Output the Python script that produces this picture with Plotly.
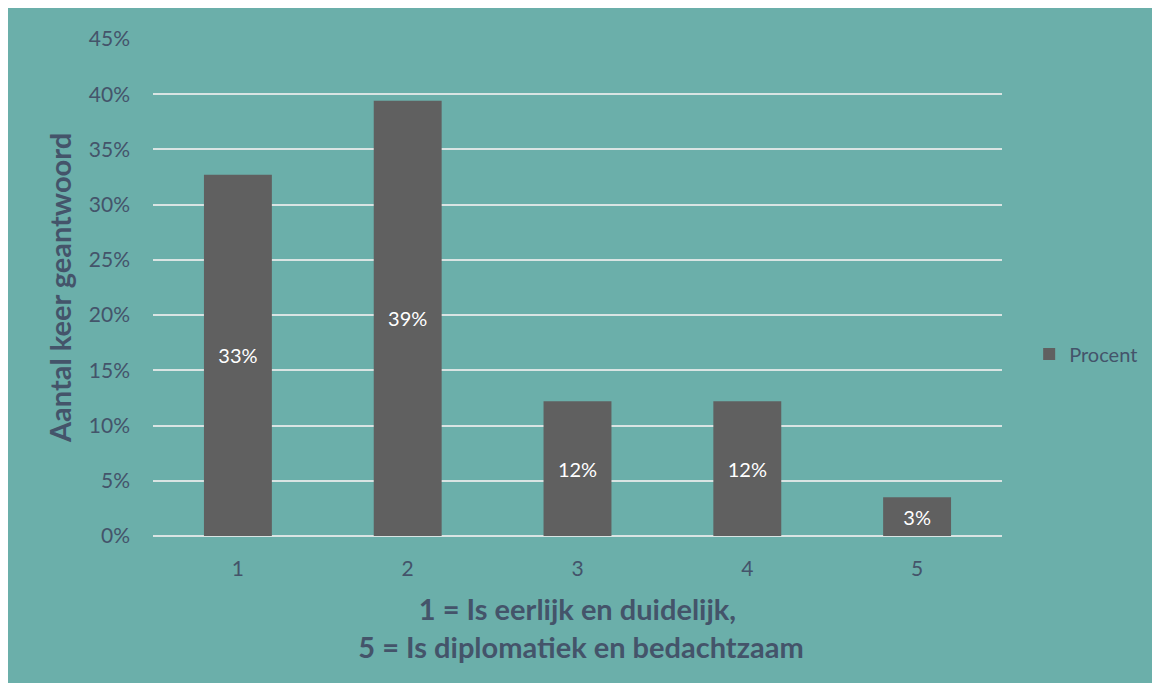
import plotly.graph_objects as go

categories = ["1", "2", "3", "4", "5"]
values = [0.327, 0.394, 0.122, 0.122, 0.035]
labels = ["33%", "39%", "12%", "12%", "3%"]
series_name = "Procent"
y_title = "Aantal keer geantwoord"
x_title = "1 = Is eerlijk en duidelijk,<br> 5 = Is diplomatiek en bedachtzaam"

TEAL = "#6BAFAA"
TEXT = "#44546A"
BAR = "#606060"
FONT = "Lato"

fig = go.Figure()
fig.add_trace(go.Bar(
    x=categories, y=values, name=series_name,
    marker=dict(color=BAR, line=dict(width=0)),
    text=labels, textposition="inside", insidetextanchor="middle",
    textfont=dict(color="white", size=20, family=FONT),
    showlegend=True,
))

fig.update_layout(
    width=1144, height=675,
    margin=dict(l=145, r=150, t=31, b=147, autoexpand=False),
    paper_bgcolor=TEAL, plot_bgcolor=TEAL,
    bargap=0.6,
    font=dict(family=FONT, color=TEXT, size=20),
    showlegend=True,
    legend=dict(x=1.032, y=0.366, xanchor="left", yanchor="middle",
                font=dict(size=20, color=TEXT, family=FONT),
                bgcolor="rgba(0,0,0,0)", itemwidth=30),
    xaxis=dict(
        showgrid=False, zeroline=False, showline=False, ticks="",
        tickfont=dict(size=21, color=TEXT), ticklabelstandoff=18,
        title=dict(text=x_title, font=dict(size=29, color=TEXT, family=FONT, weight="bold"), standoff=20),
    ),
    yaxis=dict(
        range=[0, 0.45], dtick=0.05, tickformat=".0%",
        showgrid=True, gridcolor="#D9E4E3", gridwidth=2,
        zeroline=True, zerolinecolor="#D9E4E3", zerolinewidth=2,
        showline=False, ticks="", ticklabelstandoff=22,
        tickfont=dict(size=21, color=TEXT),
        title=dict(text=y_title, font=dict(size=29, color=TEXT, family=FONT, weight="bold"), standoff=8),
    ),
)

fig.write_html("out.html")
